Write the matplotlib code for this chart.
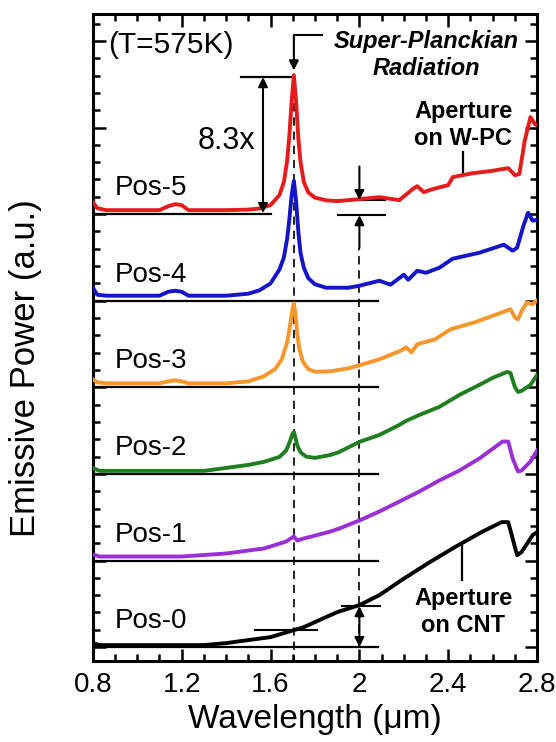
import numpy as np
import matplotlib
matplotlib.use('Agg')
import matplotlib.pyplot as plt
from matplotlib.ticker import MultipleLocator

plt.rcParams['font.family'] = ['Liberation Sans', 'DejaVu Sans']

# wavelength (um) and emissive power above each curve's own baseline (a.u.)
red_wl = [0.80, 0.82, 0.86, 1.00, 1.10, 1.14, 1.17, 1.20, 1.23, 1.40, 1.50, 1.55, 1.60, 1.64, 1.66,
          1.675, 1.685, 1.695, 1.705, 1.715, 1.725, 1.735, 1.75, 1.77, 1.80, 1.85, 1.90, 2.00, 2.09,
          2.18, 2.24, 2.26, 2.29, 2.33, 2.40, 2.42, 2.51, 2.59, 2.67, 2.70, 2.72, 2.745, 2.77, 2.79, 2.80]
red_val = [0.139, 0.069, 0.046, 0.046, 0.046, 0.092, 0.115, 0.104, 0.046, 0.046, 0.052, 0.065, 0.104,
           0.22, 0.37, 0.62, 0.92, 1.30, 1.605, 1.30, 0.88, 0.60, 0.37, 0.25, 0.19, 0.16, 0.150, 0.173,
           0.196, 0.162, 0.289, 0.323, 0.254, 0.289, 0.335, 0.427, 0.473, 0.497, 0.531, 0.450, 0.462,
           0.855, 1.120, 1.039, 1.028]

blue_wl = [0.80, 0.82, 0.86, 1.10, 1.14, 1.17, 1.20, 1.23, 1.40, 1.50, 1.55, 1.60, 1.64, 1.66, 1.675,
           1.685, 1.695, 1.705, 1.715, 1.725, 1.735, 1.75, 1.77, 1.80, 1.85, 1.95, 2.00, 2.09, 2.14, 2.20,
           2.22, 2.26, 2.30, 2.36, 2.42, 2.54, 2.65, 2.69, 2.71, 2.74, 2.76, 2.78, 2.80]
blue_val = [0.150, 0.069, 0.058, 0.058, 0.104, 0.115, 0.104, 0.058, 0.058, 0.081, 0.12, 0.20, 0.36,
            0.50, 0.72, 0.95, 1.22, 1.386, 1.15, 0.80, 0.55, 0.38, 0.26, 0.19, 0.15, 0.150, 0.173, 0.231,
            0.185, 0.300, 0.242, 0.346, 0.323, 0.381, 0.485, 0.554, 0.647, 0.577, 0.612, 0.878, 1.016,
            0.924, 0.935]

orange_wl = [0.80, 0.82, 0.86, 1.10, 1.14, 1.17, 1.20, 1.23, 1.40, 1.50, 1.57, 1.62, 1.65, 1.675, 1.69,
             1.70, 1.705, 1.712, 1.72, 1.73, 1.745, 1.77, 1.80, 1.87, 1.95, 2.00, 2.09, 2.19, 2.21, 2.235,
             2.26, 2.34, 2.41, 2.52, 2.68, 2.70, 2.714, 2.732, 2.755, 2.778, 2.80]
orange_val = [0.092, 0.058, 0.046, 0.046, 0.069, 0.081, 0.069, 0.046, 0.046, 0.069, 0.127, 0.21, 0.32,
              0.52, 0.75, 0.92, 0.97, 0.85, 0.62, 0.44, 0.30, 0.21, 0.18, 0.185, 0.219, 0.254, 0.323,
              0.427, 0.462, 0.404, 0.497, 0.554, 0.670, 0.751, 0.901, 0.808, 0.785, 0.889, 0.981, 0.958,
              1.004]

green_wl = [0.80, 0.83, 1.00, 1.30, 1.40, 1.50, 1.57, 1.64, 1.67, 1.685, 1.70, 1.705, 1.712, 1.72, 1.735,
            1.76, 1.80, 1.87, 1.91, 2.00, 2.09, 2.18, 2.21, 2.27, 2.36, 2.45, 2.54, 2.60, 2.665, 2.68,
            2.70, 2.714, 2.73, 2.77, 2.80]
green_val = [0.069, 0.035, 0.035, 0.035, 0.069, 0.104, 0.139, 0.196, 0.27, 0.36, 0.47, 0.485, 0.42, 0.33,
             0.25, 0.20, 0.185, 0.219, 0.254, 0.370, 0.450, 0.566, 0.612, 0.681, 0.774, 0.912, 1.028,
             1.109, 1.178, 1.166, 1.004, 0.947, 0.958, 1.028, 1.143]

purple_wl = [0.80, 0.83, 1.20, 1.40, 1.57, 1.60, 1.67, 1.705, 1.72, 1.75, 1.87, 1.91, 2.00, 2.09, 2.18,
             2.27, 2.36, 2.45, 2.54, 2.645, 2.67, 2.69, 2.714, 2.73, 2.77, 2.80]
purple_val = [0.069, 0.046, 0.046, 0.081, 0.139, 0.162, 0.219, 0.277, 0.231, 0.254, 0.335, 0.370, 0.462,
              0.566, 0.681, 0.797, 0.924, 1.039, 1.178, 1.374, 1.374, 1.178, 1.028, 1.039, 1.143, 1.270]

black_wl = [0.80, 0.83, 1.30, 1.40, 1.50, 1.60, 1.705, 1.75, 1.90, 2.00, 2.09, 2.19, 2.31, 2.43, 2.55,
            2.64, 2.67, 2.71, 2.73, 2.78, 2.80]
black_val = [0.046, 0.023, 0.023, 0.046, 0.081, 0.115, 0.196, 0.231, 0.404, 0.485, 0.600, 0.774, 0.970,
             1.155, 1.328, 1.443, 1.443, 1.062, 1.097, 1.293, 1.328]

labels = ['Pos-5', 'Pos-4', 'Pos-3', 'Pos-2', 'Pos-1', 'Pos-0']
offsets = [5, 4, 3, 2, 1, 0]
colors = ['#e51c1c', '#1414c8', '#f7962a', '#1f7f1f', '#9a2fd6', '#000000']
series = [(red_wl, red_val), (blue_wl, blue_val), (orange_wl, orange_val),
          (green_wl, green_val), (purple_wl, purple_val), (black_wl, black_val)]

fig = plt.figure(figsize=(5.56, 7.42), dpi=100)
ax = fig.add_axes([0.167, 0.109, 0.799, 0.872])

# baselines
for off in offsets:
    xend = 1.6 if off == 5 else 2.085
    ax.plot([0.8, xend], [off, off], color='k', lw=1.6, zorder=2)

# dashed guide lines
ax.plot([1.705, 1.705], [-0.2, 6.62], color='k', lw=1.2, ls=(0, (5, 3.5)), zorder=1)
ax.plot([2.0, 2.0], [0, 4.61], color='k', lw=1.2, ls=(0, (5, 3.5)), zorder=1)

for (wl, val), off, c, lab in zip(series, offsets, colors, labels):
    ax.plot(wl, np.array(val) + off, color=c, lw=2.8, zorder=3, solid_joinstyle='round')
    ax.text(0.9, off + 0.3, lab, fontsize=20, ha='left', va='center')

akw = dict(color='k', lw=1.5, shrinkA=0, shrinkB=0, mutation_scale=14)

# 8.3x enhancement
ax.plot([1.467, 1.69], [6.582, 6.582], color='k', lw=1.6)
ax.annotate('', xy=(1.566, 6.582), xytext=(1.566, 5.012), arrowprops=dict(arrowstyle='<|-|>', **akw))
ax.text(1.40, 5.85, '8.3x', fontsize=22, ha='center', va='center')

# Super-Planckian bracket
ax.plot([1.832, 1.705], [7.067, 7.067], color='k', lw=1.5)
ax.annotate('', xy=(1.705, 6.66), xytext=(1.705, 7.067), arrowprops=dict(arrowstyle='-|>', **akw))
ax.text(2.30, 6.99, 'Super-Planckian', fontsize=17, style='italic', weight='bold', ha='center', va='center')
ax.text(2.30, 6.686, 'Radiation', fontsize=17, style='italic', weight='bold', ha='center', va='center')

# measurement at 2 um on Pos-5
ax.plot([1.904, 2.115], [5.162, 5.162], color='k', lw=1.5)
ax.plot([1.904, 2.115], [4.988, 4.988], color='k', lw=1.5)
ax.annotate('', xy=(2.0, 5.162), xytext=(2.0, 5.55), arrowprops=dict(arrowstyle='-|>', **akw))
ax.annotate('', xy=(2.0, 4.988), xytext=(2.0, 4.61), arrowprops=dict(arrowstyle='-|>', **akw))

# measurement at 2 um on Pos-0
ax.plot([1.922, 2.093], [0.473, 0.473], color='k', lw=1.5)
ax.plot([1.53, 1.81], [0.196, 0.196], color='k', lw=1.5)
ax.annotate('', xy=(2.0, 0.473), xytext=(2.0, 0.0), arrowprops=dict(arrowstyle='<|-|>', **akw))

# aperture notes
ax.text(2.467, 6.03, 'Aperture\non W-PC', fontsize=17, weight='bold', ha='center', va='center',
        linespacing=1.2)
ax.plot([2.467, 2.467], [5.716, 5.45], color='k', lw=1.6)
ax.text(2.467, 0.404, 'Aperture\non CNT', fontsize=17, weight='bold', ha='center', va='center',
        linespacing=1.2)
ax.plot([2.462, 2.462], [1.201, 0.774], color='k', lw=1.6)

ax.text(0.868, 6.95, '(T=575K)', fontsize=21.5, ha='left', va='center')

ax.set_xlim(0.8, 2.8)
ax.set_ylim(-0.162, 7.31)
ax.set_xticks([0.8, 1.2, 1.6, 2.0, 2.4, 2.8])
ax.set_xticklabels(['0.8', '1.2', '1.6', '2', '2.4', '2.8'])
ax.xaxis.set_minor_locator(MultipleLocator(0.1))
ax.yaxis.set_major_locator(MultipleLocator(1))
ax.yaxis.set_minor_locator(MultipleLocator(0.2))
ax.set_yticklabels([])
ax.tick_params(which='both', direction='in', top=True, right=True, width=1.8, labelsize=20, pad=8)
ax.tick_params(which='major', length=9)
ax.tick_params(which='minor', length=5)
for s in ax.spines.values():
    s.set_linewidth(2.2)

ax.set_xlabel('Wavelength (\u03bcm)', fontsize=24, labelpad=4)
ax.set_ylabel('Emissive Power (a.u.)', fontsize=25)
ax.yaxis.set_label_coords(-0.115, 0.453)

fig.savefig('out.png', dpi=100)
